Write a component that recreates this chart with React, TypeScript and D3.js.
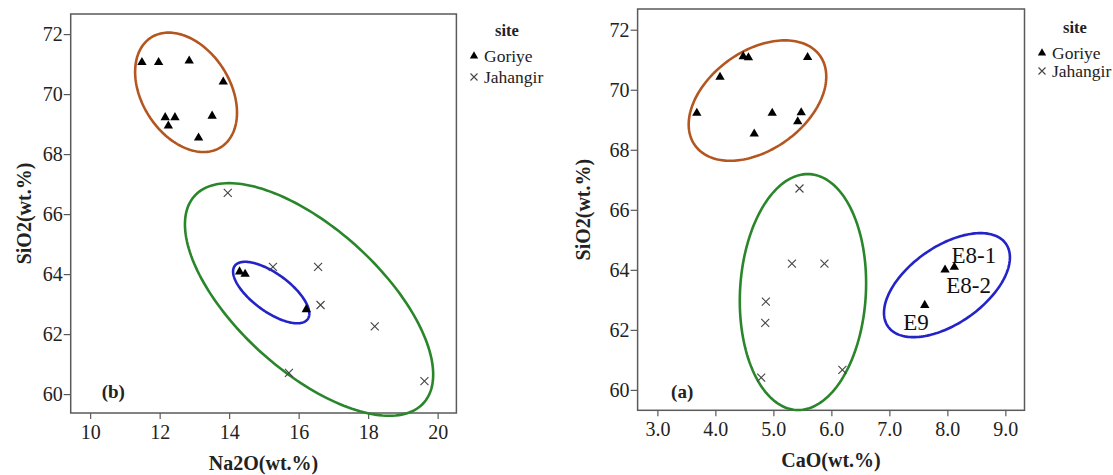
import React, { useEffect, useRef } from "react";
import * as d3 from "d3";

// ---------- data ----------
// Panel (b): Na2O vs SiO2
const goriyeNa2O = [11.49, 11.97, 12.85, 13.83, 12.16, 12.44, 12.25, 13.51, 13.12, 14.3, 14.46, 16.22];
const goriyeSiO2B = [71.06, 71.06, 71.11, 70.41, 69.22, 69.22, 68.94, 69.27, 68.54, 64.08, 64.0, 62.82];
const jahangirNa2O = [13.96, 15.26, 16.56, 16.63, 18.19, 15.72, 19.62];
const jahangirSiO2B = [66.71, 64.24, 64.24, 62.97, 62.26, 60.71, 60.43];

// Panel (a): CaO vs SiO2
const goriyeCaO = [3.68, 4.08, 4.48, 4.57, 5.59, 4.98, 5.48, 5.42, 4.67, 7.96, 8.12, 7.61];
const goriyeSiO2A = [69.22, 70.42, 71.11, 71.07, 71.08, 69.22, 69.24, 68.94, 68.53, 64.0, 64.09, 62.82];
const jahangirCaO = [5.45, 5.32, 5.88, 4.87, 4.86, 6.19, 4.79];
const jahangirSiO2A = [66.71, 64.21, 64.21, 62.94, 62.23, 60.67, 60.41];

// Ellipses: center (cx, cy), conjugate half-diameters u=(ux,uy), v=(vx,0) in data units
const ellipseNames = ["brown", "green", "blue"];
const ellipseColors = ["#b4561f", "#2a862a", "#2323c8"];
const ellipsesB = [
  { cx: 12.76, cy: 70.06, ux: -0.5, uy: 1.99, vx: 1.378 },
  { cx: 16.3, cy: 63.155, ux: -2.306, uy: 3.877, vx: 2.728 },
  { cx: 15.21, cy: 63.385, ux: -0.75, uy: 1.025, vx: 0.8 },
];
const ellipsesA = [
  { cx: 4.726, cy: 69.64, ux: 0.472, uy: 2.005, vx: 1.088 },
  { cx: 5.51, cy: 63.26, ux: 0.082, uy: 3.93, vx: 1.086 },
  { cx: 7.993, cy: 63.49, ux: 0.578, uy: 1.733, vx: 0.919 },
];

const labelTexts = ["E8-1", "E8-2", "E9"];
const labelCaO = [8.07, 7.98, 7.24];
const labelSiO2 = [64.22, 63.22, 62.0];

const ticksNa2O = [10, 12, 14, 16, 18, 20];
const ticksCaO = [3, 4, 5, 6, 7, 8, 9];
const ticksSiO2 = [60, 62, 64, 66, 68, 70, 72];
const legendTitle = "site";
const legendItems = ["Goriye", "Jahangir"];

const FONT = "'Liberation Serif', 'Times New Roman', serif";

type Ell = { cx: number; cy: number; ux: number; uy: number; vx: number };

function drawPanel(
  g: d3.Selection<SVGGElement, unknown, null, undefined>,
  opts: {
    x: d3.ScaleLinear<number, number>;
    y: d3.ScaleLinear<number, number>;
    xTicks: number[];
    xFmt: (n: number) => string;
    gx: number[];
    gy: number[];
    jx: number[];
    jy: number[];
    ellipses: Ell[];
    xTitle: string;
    tag: string;
    tagPos: [number, number];
    yTitleX: number;
    legendX: number;
    legendY: number[];
  }
) {
  const { x, y } = opts;
  const [x0, x1] = x.range();
  const [y0, y1] = y.range(); // y0 bottom, y1 top

  // frame
  g.append("rect")
    .attr("x", x0)
    .attr("y", y1)
    .attr("width", x1 - x0)
    .attr("height", y0 - y1)
    .attr("fill", "none")
    .attr("stroke", "#5a5a5a")
    .attr("stroke-width", 1.5);

  // axes
  const ax = g
    .append("g")
    .attr("transform", `translate(0,${y0})`)
    .call(d3.axisBottom(x).tickValues(opts.xTicks).tickFormat(opts.xFmt as any).tickSize(6).tickPadding(6));
  const ay = g
    .append("g")
    .attr("transform", `translate(${x0},0)`)
    .call(d3.axisLeft(y).tickValues(ticksSiO2).tickFormat(d3.format("d") as any).tickSize(7).tickPadding(1));
  [ax, ay].forEach((a) => {
    a.attr("font-family", FONT);
    a.select(".domain").remove();
    a.selectAll("line").attr("stroke", "#5a5a5a").attr("stroke-width", 1.2);
    a.selectAll("text").attr("font-family", FONT).attr("font-size", 20).attr("fill", "#222");
  });

  // ellipses
  const tSamples = d3.range(0, 2 * Math.PI, Math.PI / 90);
  opts.ellipses.forEach((e, i) => {
    const pts = tSamples.map((t) => [
      x(e.cx + e.ux * Math.cos(t) + e.vx * Math.sin(t)),
      y(e.cy + e.uy * Math.cos(t)),
    ]) as [number, number][];
    g.append("path")
      .attr("class", ellipseNames[i])
      .attr("d", d3.line().curve(d3.curveLinearClosed)(pts))
      .attr("fill", "none")
      .attr("stroke", ellipseColors[i])
      .attr("stroke-width", 2.6);
  });

  // points
  const tri = d3.symbol().type(d3.symbolTriangle).size(38);
  opts.gx.forEach((v, i) => {
    g.append("path")
      .attr("d", tri()!)
      .attr("transform", `translate(${x(v)},${y(opts.gy[i])})`)
      .attr("fill", "#000");
  });
  const cross = (cx: number, cy: number, r: number, sw: number) => {
    g.append("path")
      .attr("d", `M${cx - r},${cy - r}L${cx + r},${cy + r}M${cx - r},${cy + r}L${cx + r},${cy - r}`)
      .attr("stroke", "#444")
      .attr("stroke-width", sw)
      .attr("fill", "none");
  };
  opts.jx.forEach((v, i) => cross(x(v), y(opts.jy[i]), 4, 1.1));

  // x title
  g.append("text")
    .attr("x", (x0 + x1) / 2)
    .attr("y", y0 + 57)
    .attr("text-anchor", "middle")
    .attr("font-family", FONT)
    .attr("font-weight", "bold")
    .attr("font-size", 20)
    .attr("fill", "#222")
    .text(opts.xTitle);

  // y title
  g.append("text")
    .attr("transform", `translate(${opts.yTitleX},${(y0 + y1) / 2}) rotate(-90)`)
    .attr("text-anchor", "middle")
    .attr("font-family", FONT)
    .attr("font-weight", "bold")
    .attr("font-size", 20)
    .attr("fill", "#222")
    .text("SiO2(wt.%)");

  // panel tag
  g.append("text")
    .attr("x", x0 + opts.tagPos[0])
    .attr("y", y0 - opts.tagPos[1])
    .attr("font-family", FONT)
    .attr("font-weight", "bold")
    .attr("font-size", 19)
    .attr("fill", "#222")
    .text(opts.tag);

  // legend
  const lx = opts.legendX;
  g.append("text")
    .attr("x", lx + 21)
    .attr("y", opts.legendY[0] + 6)
    .attr("font-family", FONT)
    .attr("font-weight", "bold")
    .attr("font-size", 16.5)
    .attr("fill", "#222")
    .text(legendTitle);
  const triL = d3.symbol().type(d3.symbolTriangle).size(30);
  g.append("path")
    .attr("d", triL()!)
    .attr("transform", `translate(${lx},${opts.legendY[1]})`)
    .attr("fill", "#000");
  cross(lx, opts.legendY[2], 3.5, 1.1);
  legendItems.forEach((t, i) => {
    g.append("text")
      .attr("x", lx + 10)
      .attr("y", opts.legendY[i + 1] + 6)
      .attr("font-family", FONT)
      .attr("font-size", 17.5)
      .attr("fill", "#222")
      .text(t);
  });
}

export default function App() {
  const ref = useRef<SVGSVGElement | null>(null);

  useEffect(() => {
    const svg = d3.select(ref.current!);
    svg.selectAll("*").remove();
    svg.append("rect").attr("width", 1113).attr("height", 475).attr("fill", "#fff");

    // Panel (b)
    const xB = d3.scaleLinear().domain([9.44, 20.54]).range([70.7, 456.4]);
    const yB = d3.scaleLinear().domain([59.37, 72.67]).range([413, 14]);
    drawPanel(svg.append("g"), {
      x: xB,
      y: yB,
      xTicks: ticksNa2O,
      xFmt: d3.format("d"),
      gx: goriyeNa2O,
      gy: goriyeSiO2B,
      jx: jahangirNa2O,
      jy: jahangirSiO2B,
      ellipses: ellipsesB,
      xTitle: "Na2O(wt.%)",
      tag: "(b)",
      tagPos: [31, 15],
      yTitleX: 31,
      legendX: 474,
      legendY: [30, 56, 77],
    });

    // Panel (a)
    const xA = d3.scaleLinear().domain([2.659, 9.33]).range([637.6, 1024.5]);
    const yA = d3.scaleLinear().domain([59.32, 72.69]).range([410.3, 9]);
    const gA = svg.append("g");
    drawPanel(gA, {
      x: xA,
      y: yA,
      xTicks: ticksCaO,
      xFmt: d3.format(".1f"),
      gx: goriyeCaO,
      gy: goriyeSiO2A,
      jx: jahangirCaO,
      jy: jahangirSiO2A,
      ellipses: ellipsesA,
      xTitle: "CaO(wt.%)",
      tag: "(a)",
      tagPos: [33.5, 12],
      yTitleX: 590,
      legendX: 1042,
      legendY: [27, 53, 71],
    });

    labelTexts.forEach((t, i) => {
      gA.append("text")
        .attr("x", xA(labelCaO[i]))
        .attr("y", yA(labelSiO2[i]))
        .attr("font-family", FONT)
        .attr("font-size", 23)
        .attr("fill", "#111")
        .text(t);
    });
  }, []);

  return (
    <svg
      ref={ref}
      width={1113}
      height={475}
      style={{ position: "absolute", left: 0, top: 0, display: "block" }}
    />
  );
}
